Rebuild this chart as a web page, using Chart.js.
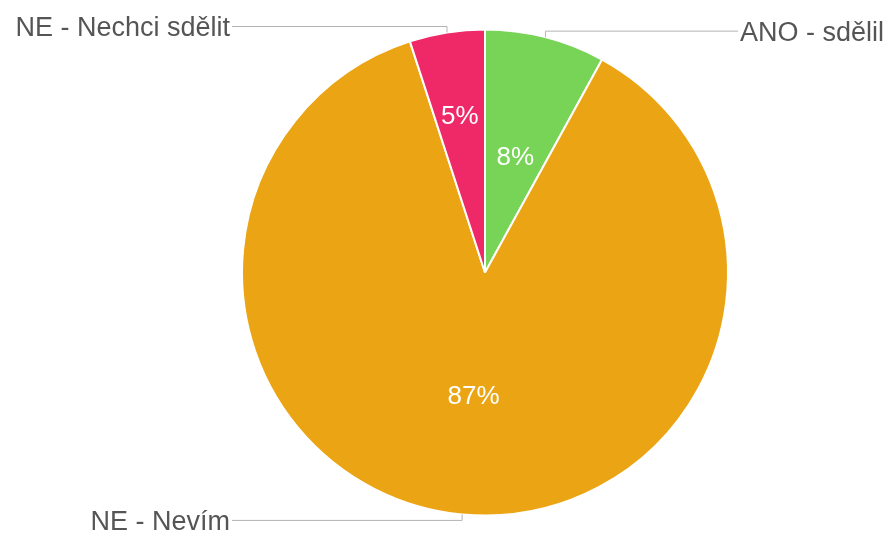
<!DOCTYPE html>
<html>
<head>
<meta charset="utf-8">
<script src="https://cdn.jsdelivr.net/npm/chart.js@4/dist/chart.umd.min.js"></script>
<style>
  html, body { margin: 0; padding: 0; background: #fff; }
  #wrap { width: 887px; height: 533px; position: relative; }
</style>
</head>
<body>
<div id="wrap"><canvas id="pie"></canvas></div>
<script>
// ── Data ────────────────────────────────────────────────
const answers = ["ANO - sdělil", "NE - Nevím", "NE - Nechci sdělit"];
const shares  = [8, 87, 5];
const colors  = ["#78d456", "#eba514", "#ef2867"];

const FONT = "'Liberation Sans', Arial, Helvetica, sans-serif";

// ── Plugin: percent inside slices + leader lines to outer labels ──
const sliceLabels = {
  id: "sliceLabels",
  afterDatasetsDraw(chart) {
    const ctx  = chart.ctx;
    const arcs = chart.getDatasetMeta(0).data;
    const data = chart.data.datasets[0].data;

    arcs.forEach(function (arc, i) {
      const p   = arc.getProps(["x", "y", "startAngle", "endAngle", "outerRadius"], true);
      const mid = (p.startAngle + p.endAngle) / 2;
      const cos = Math.cos(mid), sin = Math.sin(mid);
      const r   = p.outerRadius;

      // percent text, pushed outward a bit on thin slices
      const k = data[i] < 6 ? 0.66 : 0.5;
      ctx.save();
      ctx.fillStyle = "#fff";
      ctx.font = "26px " + FONT;
      ctx.textAlign = "center";
      ctx.textBaseline = "middle";
      ctx.fillText(data[i] + "%", p.x + cos * r * k, p.y + sin * r * k + 3);

      // leader line: short tick off the rim, then across to the label
      const ax = p.x + cos * r;
      const ay = p.y + sin * r;
      const ly = ay + (sin < 0 ? -6 : 6);
      const right = cos > 0;
      const lx = p.x + (right ? r + 10 : -(r + 10));

      ctx.strokeStyle = "#b4b4b4";
      ctx.lineWidth = 1;
      ctx.beginPath();
      ctx.moveTo(ax, ay);
      ctx.lineTo(ax, ly);
      ctx.lineTo(lx, ly);
      ctx.stroke();

      ctx.fillStyle = "#555";
      ctx.font = "27px " + FONT;
      ctx.textAlign = right ? "left" : "right";
      ctx.fillText(chart.data.labels[i], lx + (right ? 2 : -2), ly + 2);
      ctx.restore();
    });
  }
};

new Chart(document.getElementById("pie"), {
  type: "pie",
  data: {
    labels: answers,
    datasets: [{
      data:            shares,
      backgroundColor: colors,
      borderColor:     "#ffffff",
      borderWidth:     2,
      hoverOffset:     0,
      radius:          243,
    }]
  },
  options: {
    responsive: true,
    maintainAspectRatio: false,
    animation: false,
    layout: { padding: { left: 83, right: 0, top: 12, bottom: 0 } },
    plugins: {
      legend:  { display: false },
      tooltip: { enabled: false }
    }
  },
  plugins: [sliceLabels]
});
</script>
</body>
</html>
